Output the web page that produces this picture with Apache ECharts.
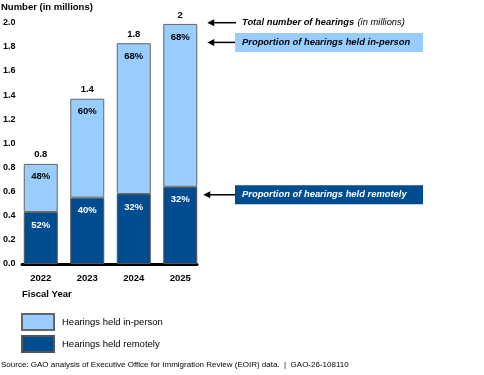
<!DOCTYPE html>
<html><head><meta charset="utf-8">
<script src="https://cdn.jsdelivr.net/npm/echarts@6/dist/echarts.min.js"></script>
<style>html,body{margin:0;padding:0;background:#fff}#c{width:484px;height:375px}</style>
</head><body><div id="c"></div>
<script>
const years = ['2022', '2023', '2024', '2025'];
const remote = [0.43, 0.55, 0.58, 0.64];
const inPerson = [0.40, 0.82, 1.25, 1.35];
const totals = [0.83, 1.37, 1.83, 1.99];
const totalLabels = ['0.8', '1.4', '1.8', '2'];
const remotePct = ['52%', '40%', '32%', '32%'];
const inPersonPct = ['48%', '60%', '68%', '68%'];

const FONT = 'Arial, "Liberation Sans", sans-serif';
const LIGHT = '#99CCFF';
const DARK = '#004C91';

const chart = echarts.init(document.getElementById('c'), null, {renderer: 'canvas'});

chart.setOption({
  animation: false,
  textStyle: {fontFamily: FONT},
  grid: [
    {left: 15.5, width: 188, top: 22.7, bottom: 111, containLabel: false},
    {left: 22, width: 175, top: 22.7, bottom: 111, containLabel: false}
  ],
  xAxis: [
    {type: 'category', gridIndex: 0, data: years,
     axisLine: {show: false}, axisTick: {show: false},
     axisLabel: {color: '#000', fontWeight: 'bold', fontSize: 9.5, fontFamily: FONT, margin: 9}},
    {type: 'category', gridIndex: 1, data: years,
     axisLine: {show: true, lineStyle: {color: '#000', width: 3}},
     axisTick: {show: false}, axisLabel: {show: false}}
  ],
  yAxis: [
    {type: 'value', gridIndex: 0, min: 0, max: 2, interval: 0.2,
     axisLine: {show: false}, axisTick: {show: false}, splitLine: {show: false},
     axisLabel: {color: '#000', fontWeight: 'bold', fontSize: 9, fontFamily: FONT,
       align: 'left', margin: 14.5, formatter: v => v.toFixed(1)}},
    {type: 'value', gridIndex: 1, min: 0, max: 2, show: false}
  ],
  legend: {
    orient: 'vertical', left: 21, top: 313, padding: 0, itemWidth: 32, itemHeight: 16, itemGap: 4,
    icon: 'rect', data: ['Hearings held in-person', 'Hearings held remotely'],
    textStyle: {color: '#000', fontSize: 9.5, fontFamily: FONT, padding: [0, 0, 0, 3]}
  },
  graphic: [],
  series: [
    {name: 'Total', type: 'bar', xAxisIndex: 0, yAxisIndex: 0, barWidth: 34, barGap: '-100%', z: 1,
     data: totals, itemStyle: {color: 'rgba(0,0,0,0)'},
     label: {show: true, position: 'top', distance: 4, color: '#000', fontWeight: 'bold', fontSize: 9.5,
       fontFamily: FONT, formatter: p => totalLabels[p.dataIndex]}},
    {name: 'Hearings held remotely', type: 'bar', stack: 'h', xAxisIndex: 0, yAxisIndex: 0, barWidth: 34, z: 2,
     data: remote, itemStyle: {color: DARK, borderColor: '#555', borderWidth: 1},
     label: {show: true, position: 'insideTop', distance: 8, color: '#fff', fontWeight: 'bold', fontSize: 9.5,
       fontFamily: FONT, formatter: p => remotePct[p.dataIndex]}},
    {name: 'Hearings held in-person', type: 'bar', stack: 'h', xAxisIndex: 0, yAxisIndex: 0, barWidth: 34, z: 2,
     data: inPerson, itemStyle: {color: LIGHT, borderColor: '#666', borderWidth: 1},
     label: {show: true, position: 'insideTop', distance: 8, color: '#000', fontWeight: 'bold', fontSize: 9.5,
       fontFamily: FONT, formatter: p => inPersonPct[p.dataIndex]}}
  ]
});

// annotations tied to the last bar
const last = years.length - 1;
const xC = chart.convertToPixel({xAxisIndex: 0}, years[last]);
const barRight = xC + 17;
const yTop = chart.convertToPixel({yAxisIndex: 0}, 2.0);
const yIn = chart.convertToPixel({yAxisIndex: 0}, totals[last]) + 18.5;
const yRem = chart.convertToPixel({yAxisIndex: 0}, remote[last]) + 8;
const boxL = 235, boxW = 188, boxH = 19;

function arrow(x1, x2, y) {
  return [
    {type: 'line', shape: {x1: x1 + 5, y1: y, x2: x2, y2: y}, style: {stroke: '#000', lineWidth: 1.5}},
    {type: 'polygon', shape: {points: [[x1, y], [x1 + 7, y - 3.5], [x1 + 7, y + 3.5]]}, style: {fill: '#000'}}
  ];
}

const g = [];
g.push(...arrow(barRight + 10, boxL + 1, yTop));
g.push({type: 'text', x: 242, y: yTop, style: {
  text: '{b|Total number of hearings} {i|(in millions)}', verticalAlign: 'middle',
  rich: {b: {fontFamily: FONT, fontSize: 9.4, fontWeight: 'bold', fontStyle: 'italic', fill: '#000'},
         i: {fontFamily: FONT, fontSize: 9.4, fontStyle: 'italic', fill: '#000'}}}});
g.push({type: 'rect', shape: {x: boxL, y: yIn - 9.5, width: boxW, height: boxH}, style: {fill: LIGHT}});
g.push(...arrow(barRight + 10, boxL, yIn));
g.push({type: 'text', x: 242, y: yIn, style: {text: 'Proportion of hearings held in-person', verticalAlign: 'middle',
  fontFamily: FONT, fontSize: 9.4, fontWeight: 'bold', fontStyle: 'italic', fill: '#000'}});
g.push({type: 'rect', shape: {x: boxL, y: yRem - 9.5, width: boxW, height: boxH}, style: {fill: DARK}});
g.push(...arrow(barRight + 6, boxL, yRem));
g.push({type: 'text', x: 242, y: yRem, style: {text: 'Proportion of hearings held remotely', verticalAlign: 'middle',
  fontFamily: FONT, fontSize: 9.4, fontWeight: 'bold', fontStyle: 'italic', fill: '#fff'}});
g.push({type: 'text', x: 1, y: 7, style: {text: 'Number (in millions)', verticalAlign: 'middle',
  fontFamily: FONT, fontSize: 9.5, fontWeight: 'bold', fill: '#000'}});
g.push({type: 'text', x: 22, y: 294, style: {text: 'Fiscal Year', verticalAlign: 'middle',
  fontFamily: FONT, fontSize: 9.5, fontWeight: 'bold', fill: '#000'}});
g.push({type: 'text', x: 1, y: 365, style: {text: 'Source: GAO analysis of Executive Office for Immigration Review (EOIR) data.  |  GAO-26-108110',
  verticalAlign: 'middle', fontFamily: FONT, fontSize: 8, fill: '#000'}});
chart.setOption({graphic: g});
</script>
</body></html>
